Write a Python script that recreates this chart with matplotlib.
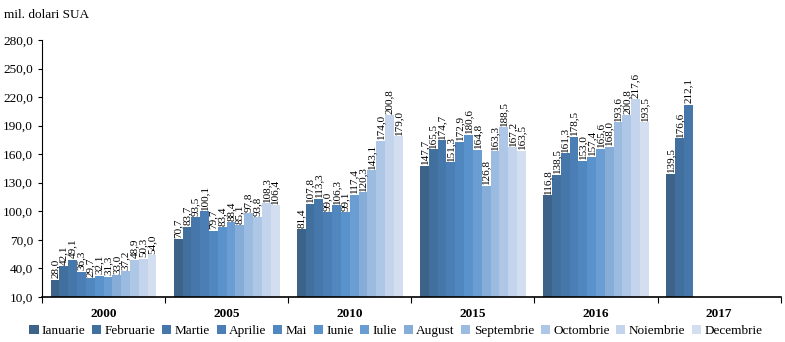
import numpy as np
import matplotlib.pyplot as plt
from matplotlib.ticker import FuncFormatter

plt.rcParams['font.family'] = ['Liberation Serif', 'DejaVu Serif']

years = ['2000', '2005', '2010', '2015', '2016', '2017']
months = ['Ianuarie', 'Februarie', 'Martie', 'Aprilie', 'Mai', 'Iunie', 'Iulie',
          'August', 'Septembrie', 'Octombrie', 'Noiembrie', 'Decembrie']

v2000 = [28.0, 42.1, 49.1, 36.3, 29.7, 32.1, 31.3, 33.0, 37.2, 48.9, 50.3, 54.0]
v2005 = [70.7, 83.7, 93.5, 100.1, 79.7, 83.4, 88.4, 85.1, 97.8, 93.8, 108.3, 106.4]
v2010 = [81.4, 107.8, 113.3, 99.0, 106.3, 99.1, 117.4, 120.3, 143.1, 174.0, 200.8, 179.0]
v2015 = [147.7, 165.5, 174.7, 151.3, 172.9, 180.6, 164.8, 126.8, 163.3, 188.5, 167.2, 163.5]
v2016 = [116.8, 138.5, 161.3, 178.5, 153.0, 157.4, 165.6, 168.0, 193.6, 200.8, 217.6, 193.5]
v2017 = [139.5, 176.6, 212.1]
values = [v2000, v2005, v2010, v2015, v2016, v2017]

colors = ['#3e6389', '#42709e', '#4677aa', '#4a7eb5', '#5087bf', '#5a93cc',
          '#6a9ed3', '#86acd8', '#9bbbe0', '#afc7e6', '#c3d4ec', '#d3dff0']

fig = plt.figure(figsize=(7.85, 3.42), dpi=100)
ax = fig.add_axes([0.0535, 0.132, 0.941, 0.751])

base = 10
width = 0.86 / 12
for m in range(12):
    xs, hs = [], []
    for g, vals in enumerate(values):
        if m < len(vals):
            xs.append(g - 0.43 + width * (m + 0.5))
            hs.append(vals[m])
    hs = np.array(hs)
    ax.bar(xs, hs - base, width, bottom=base, color=colors[m], label=months[m])
    for x, h in zip(xs, hs):
        ax.text(x, h + 1.5, f'{h:.1f}'.replace('.', ','), rotation=90,
                ha='center', va='bottom', fontsize=8)

ax.set_xlim(-0.5, len(years) - 0.5)
ax.set_ylim(10, 280)
ax.set_yticks(np.arange(10, 281, 30))
ax.yaxis.set_major_formatter(FuncFormatter(lambda v, p: f'{v:.1f}'.replace('.', ',')))
ax.tick_params(axis='y', labelsize=9.5, length=3)

ax.set_xticks(np.arange(len(years) + 1) - 0.5)
ax.set_xticklabels([])
ax.tick_params(axis='x', length=4, direction='out')
for g, y in enumerate(years):
    ax.text(g, -0.045, y, transform=ax.get_xaxis_transform(), ha='center', va='top',
            fontsize=9.5, fontweight='bold')

for s in ['top', 'right']:
    ax.spines[s].set_visible(False)
ax.spines['bottom'].set_linewidth(1.2)

fig.text(0.005, 0.975, 'mil. dolari SUA', fontsize=9.5, ha='left', va='top')

ax.legend(loc='upper center', bbox_to_anchor=(0.479, -0.09), ncol=12, frameon=False,
          fontsize=9.5, handlelength=0.7, handleheight=0.7, handletextpad=0.25,
          columnspacing=0.5, borderaxespad=0)

fig.savefig('out.png', dpi=100)
